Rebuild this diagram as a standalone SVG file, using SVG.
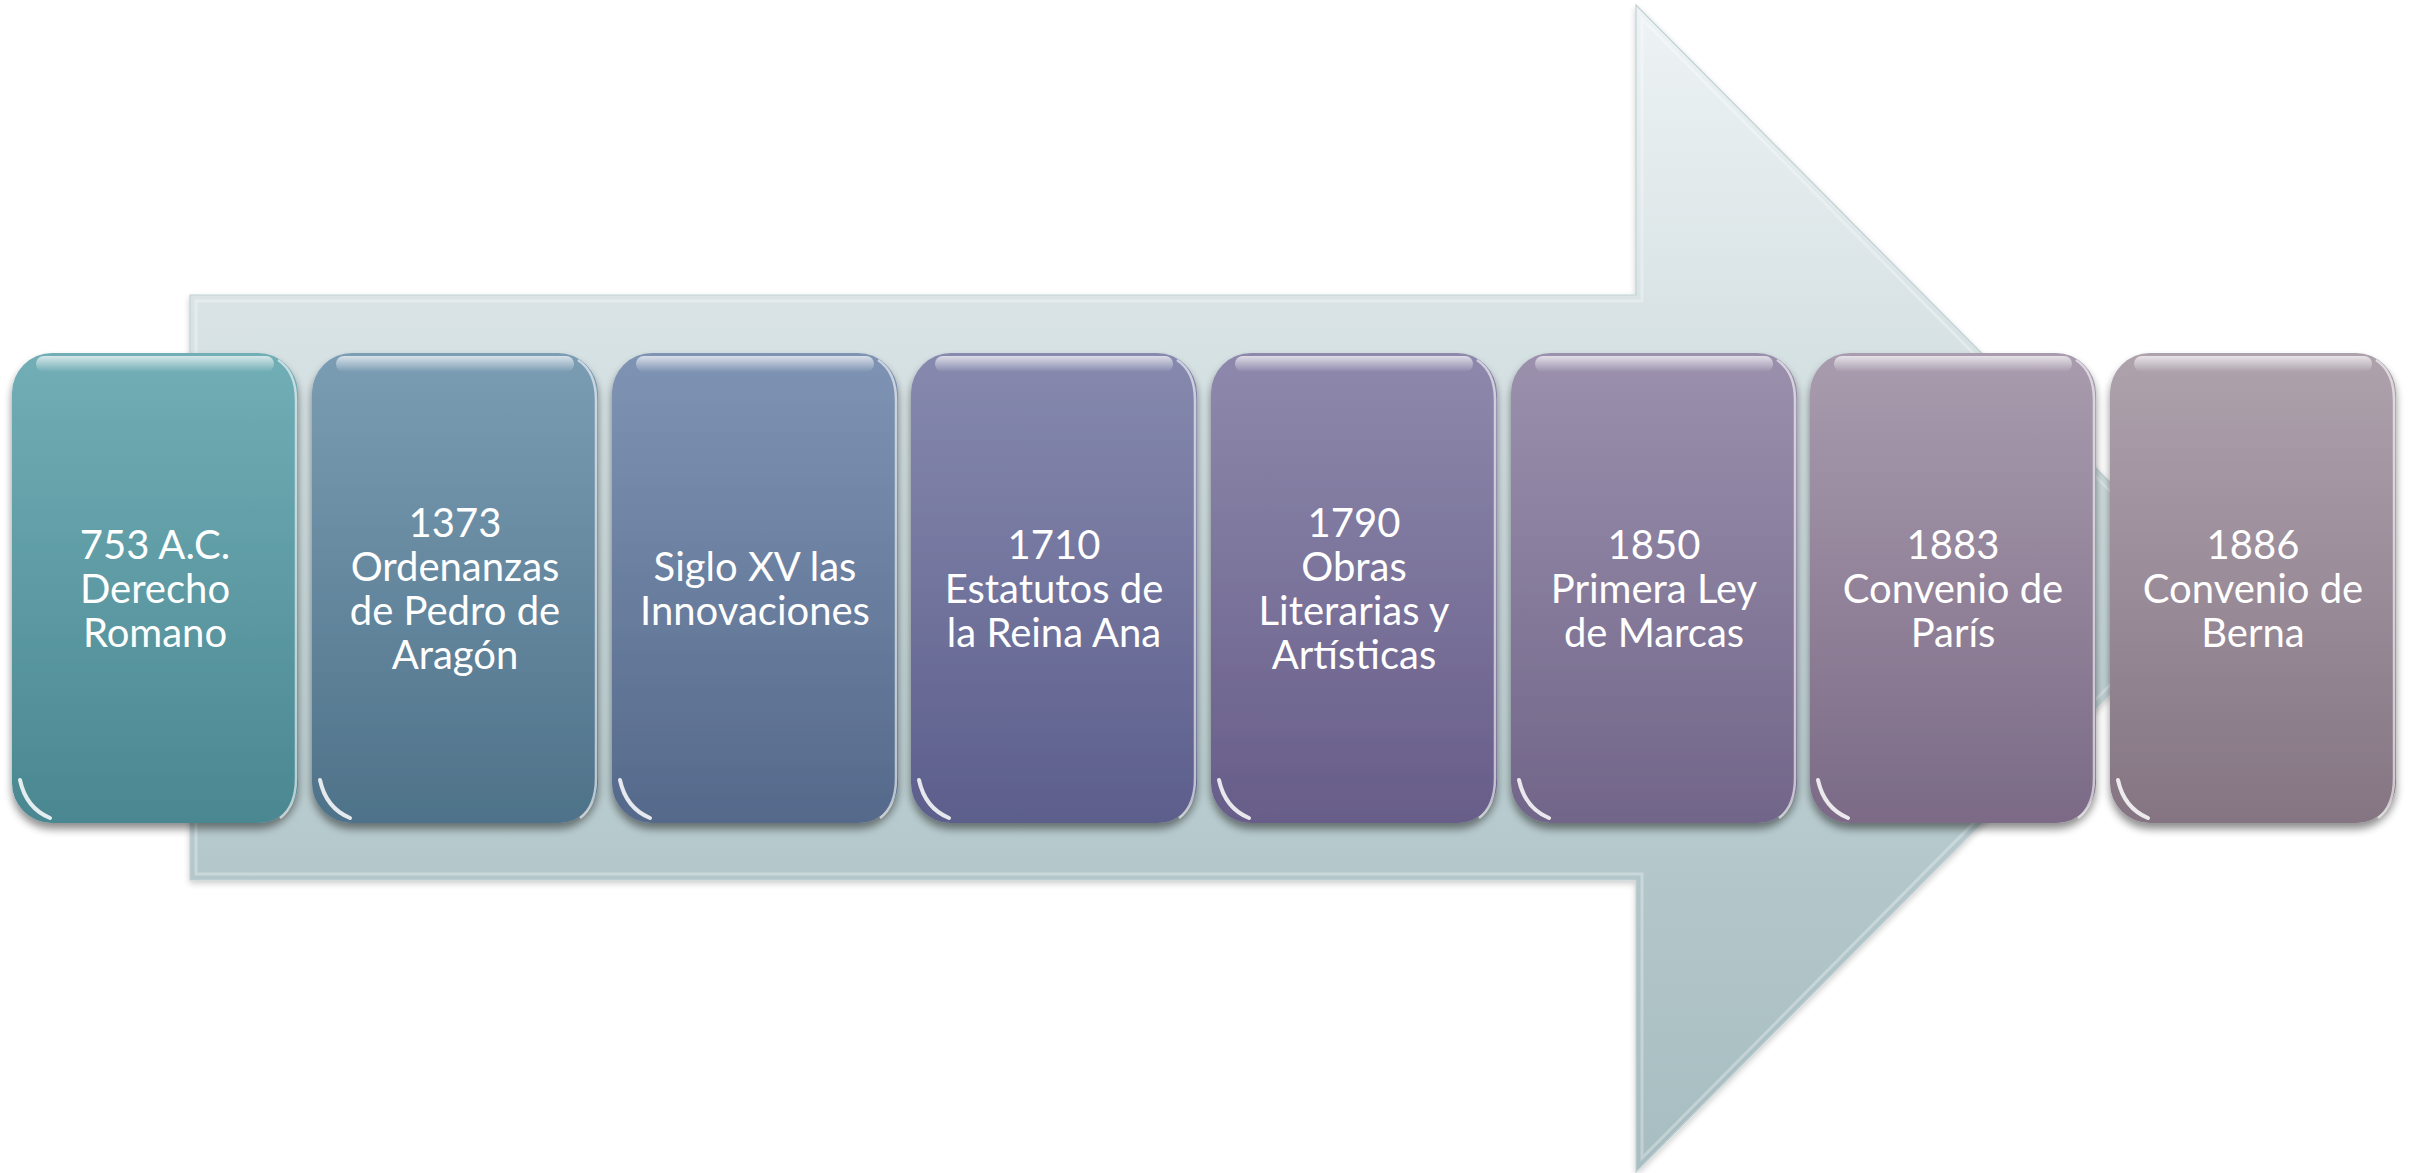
<svg xmlns="http://www.w3.org/2000/svg" width="2417" height="1173" viewBox="0 0 2417 1173">
<defs>
<style>
.lbl{font-family:Lato,"Open Sans","Liberation Sans",sans-serif;font-size:40px;fill:#ffffff;text-anchor:middle}
.box{filter:url(#sh)}
.hl{fill:url(#hlg)}
.rim{fill:none;stroke:#ffffff;stroke-opacity:0.6;stroke-width:2.5}
.glint{fill:none;stroke:#ffffff;stroke-width:4;stroke-linecap:round;stroke-opacity:0.85}
</style>
<linearGradient id="ag" x1="0" y1="5" x2="0" y2="1172" gradientUnits="userSpaceOnUse">
<stop offset="0" stop-color="#eef3f5"/>
<stop offset="0.25" stop-color="#dae4e6"/>
<stop offset="0.75" stop-color="#b3c7ca"/>
<stop offset="1" stop-color="#a7bdc1"/>
</linearGradient>
<linearGradient id="hlg" x1="0" y1="0" x2="0" y2="1">
<stop offset="0" stop-color="#ffffff" stop-opacity="0.7"/>
<stop offset="1" stop-color="#ffffff" stop-opacity="0"/>
</linearGradient>
<linearGradient id="g1" x1="0" y1="0" x2="0" y2="1"><stop offset="0" stop-color="#71aeb6"/><stop offset="1" stop-color="#4a8791"/></linearGradient>
<linearGradient id="g2" x1="0" y1="0" x2="0" y2="1"><stop offset="0" stop-color="#7b9db4"/><stop offset="1" stop-color="#4e7289"/></linearGradient>
<linearGradient id="g3" x1="0" y1="0" x2="0" y2="1"><stop offset="0" stop-color="#7f94b4"/><stop offset="1" stop-color="#55698b"/></linearGradient>
<linearGradient id="g4" x1="0" y1="0" x2="0" y2="1"><stop offset="0" stop-color="#878aae"/><stop offset="1" stop-color="#5c5e8c"/></linearGradient>
<linearGradient id="g5" x1="0" y1="0" x2="0" y2="1"><stop offset="0" stop-color="#8e89ac"/><stop offset="1" stop-color="#675d89"/></linearGradient>
<linearGradient id="g6" x1="0" y1="0" x2="0" y2="1"><stop offset="0" stop-color="#9b91ad"/><stop offset="1" stop-color="#716589"/></linearGradient>
<linearGradient id="g7" x1="0" y1="0" x2="0" y2="1"><stop offset="0" stop-color="#a99cae"/><stop offset="1" stop-color="#7b6a86"/></linearGradient>
<linearGradient id="g8" x1="0" y1="0" x2="0" y2="1"><stop offset="0" stop-color="#aea2ad"/><stop offset="1" stop-color="#857583"/></linearGradient>
<filter id="sh" x="-10%" y="-10%" width="120%" height="120%">
<feGaussianBlur in="SourceAlpha" stdDeviation="4"/>
<feOffset dx="0" dy="6" result="o"/>
<feComponentTransfer><feFuncA type="linear" slope="0.45"/></feComponentTransfer>
<feMerge><feMergeNode/><feMergeNode in="SourceGraphic"/></feMerge>
</filter>
<filter id="ash" x="-5%" y="-5%" width="110%" height="110%">
<feGaussianBlur in="SourceAlpha" stdDeviation="3"/>
<feOffset dx="0" dy="3"/>
<feComponentTransfer><feFuncA type="linear" slope="0.2"/></feComponentTransfer>
<feMerge><feMergeNode/><feMergeNode in="SourceGraphic"/></feMerge>
</filter>
</defs>
<rect width="2417" height="1173" fill="#ffffff"/>
<g id="timeline-arrow">
<path d="M190,295 L1636,295 L1636,5 L2215,588 L1636,1172 L1636,880 L190,880 Z" fill="url(#ag)" stroke="#c2d1d4" stroke-width="1.2" filter="url(#ash)"/>
<path d="M196,301 L1642,301 L1642,19 L2206,588 L1642,1158 L1642,874 L196,874 Z" fill="none" stroke="#ffffff" stroke-opacity="0.3" stroke-width="3"/>
</g>
<g id="connectors"></g>
<g id="node-1">
<rect class="box" x="12" y="353" width="286" height="470" rx="40" fill="url(#g1)"/>
<rect class="hl" x="36" y="356" width="238" height="16" rx="8"/>
<path class="rim" d="M278,360 Q296,372 296,400 L296,778 Q296,806 280,818"/>
<path class="glint" d="M20,780 Q26,808 50,818"/>
<text class="lbl" x="155" y="559">753 A.C.</text>
<text class="lbl" x="155" y="603">Derecho</text>
<text class="lbl" x="155" y="647">Romano</text>
</g>
<g id="node-2">
<rect class="box" x="312" y="353" width="286" height="470" rx="40" fill="url(#g2)"/>
<rect class="hl" x="336" y="356" width="238" height="16" rx="8"/>
<path class="rim" d="M578,360 Q596,372 596,400 L596,778 Q596,806 580,818"/>
<path class="glint" d="M320,780 Q326,808 350,818"/>
<text class="lbl" x="455" y="537">1373</text>
<text class="lbl" x="455" y="581">Ordenanzas</text>
<text class="lbl" x="455" y="625">de Pedro de</text>
<text class="lbl" x="455" y="669">Aragón</text>
</g>
<g id="node-3">
<rect class="box" x="612" y="353" width="286" height="470" rx="40" fill="url(#g3)"/>
<rect class="hl" x="636" y="356" width="238" height="16" rx="8"/>
<path class="rim" d="M878,360 Q896,372 896,400 L896,778 Q896,806 880,818"/>
<path class="glint" d="M620,780 Q626,808 650,818"/>
<text class="lbl" x="755" y="581">Siglo XV las</text>
<text class="lbl" x="755" y="625">Innovaciones</text>
</g>
<g id="node-4">
<rect class="box" x="911" y="353" width="286" height="470" rx="40" fill="url(#g4)"/>
<rect class="hl" x="935" y="356" width="238" height="16" rx="8"/>
<path class="rim" d="M1177,360 Q1195,372 1195,400 L1195,778 Q1195,806 1179,818"/>
<path class="glint" d="M919,780 Q925,808 949,818"/>
<text class="lbl" x="1054" y="559">1710</text>
<text class="lbl" x="1054" y="603">Estatutos de</text>
<text class="lbl" x="1054" y="647">la Reina Ana</text>
</g>
<g id="node-5">
<rect class="box" x="1211" y="353" width="286" height="470" rx="40" fill="url(#g5)"/>
<rect class="hl" x="1235" y="356" width="238" height="16" rx="8"/>
<path class="rim" d="M1477,360 Q1495,372 1495,400 L1495,778 Q1495,806 1479,818"/>
<path class="glint" d="M1219,780 Q1225,808 1249,818"/>
<text class="lbl" x="1354" y="537">1790</text>
<text class="lbl" x="1354" y="581">Obras</text>
<text class="lbl" x="1354" y="625">Literarias y</text>
<text class="lbl" x="1354" y="669">Artísticas</text>
</g>
<g id="node-6">
<rect class="box" x="1511" y="353" width="286" height="470" rx="40" fill="url(#g6)"/>
<rect class="hl" x="1535" y="356" width="238" height="16" rx="8"/>
<path class="rim" d="M1777,360 Q1795,372 1795,400 L1795,778 Q1795,806 1779,818"/>
<path class="glint" d="M1519,780 Q1525,808 1549,818"/>
<text class="lbl" x="1654" y="559">1850</text>
<text class="lbl" x="1654" y="603">Primera Ley</text>
<text class="lbl" x="1654" y="647">de Marcas</text>
</g>
<g id="node-7">
<rect class="box" x="1810" y="353" width="286" height="470" rx="40" fill="url(#g7)"/>
<rect class="hl" x="1834" y="356" width="238" height="16" rx="8"/>
<path class="rim" d="M2076,360 Q2094,372 2094,400 L2094,778 Q2094,806 2078,818"/>
<path class="glint" d="M1818,780 Q1824,808 1848,818"/>
<text class="lbl" x="1953" y="559">1883</text>
<text class="lbl" x="1953" y="603">Convenio de</text>
<text class="lbl" x="1953" y="647">París</text>
</g>
<g id="node-8">
<rect class="box" x="2110" y="353" width="286" height="470" rx="40" fill="url(#g8)"/>
<rect class="hl" x="2134" y="356" width="238" height="16" rx="8"/>
<path class="rim" d="M2376,360 Q2394,372 2394,400 L2394,778 Q2394,806 2378,818"/>
<path class="glint" d="M2118,780 Q2124,808 2148,818"/>
<text class="lbl" x="2253" y="559">1886</text>
<text class="lbl" x="2253" y="603">Convenio de</text>
<text class="lbl" x="2253" y="647">Berna</text>
</g>
</svg>
